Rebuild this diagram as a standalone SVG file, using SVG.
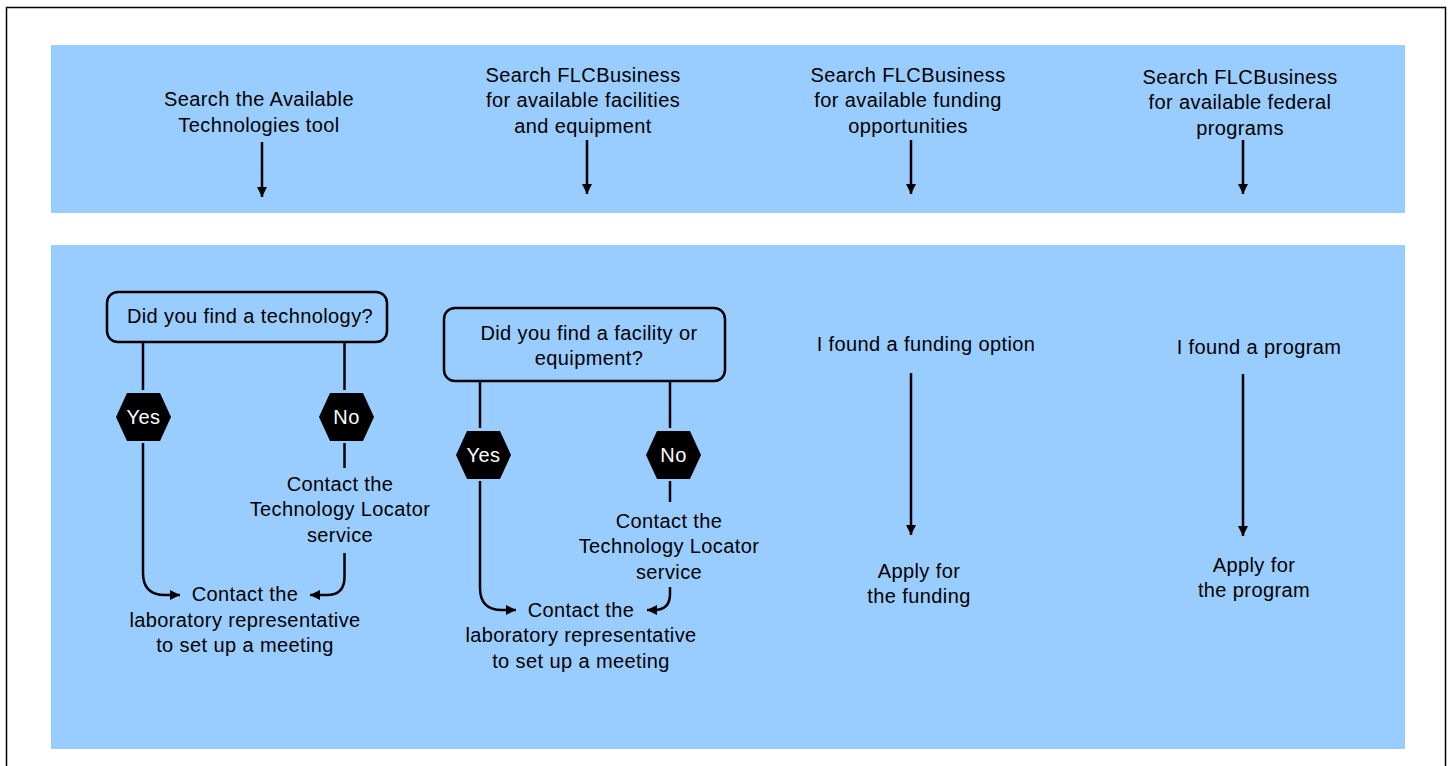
<svg xmlns="http://www.w3.org/2000/svg" width="1449" height="766" viewBox="0 0 1449 766">
<style>
text{font-family:"Liberation Sans",Arial,sans-serif;font-size:20px;letter-spacing:0.4px;fill:#000;text-anchor:middle}
.w{fill:#fff}
.band{fill:#99ccff}
.box{fill:#99ccff;stroke:#000;stroke-width:2.5}
.hex{fill:#000}
.c{fill:none;stroke:#000;stroke-width:2.5}
</style>
<defs>
<marker id="ah" markerUnits="userSpaceOnUse" markerWidth="12" markerHeight="12" viewBox="0 0 12 12" refX="10" refY="6" orient="auto">
<path d="M0,1 L10,6 L0,11 Z" fill="#000"/>
</marker>
</defs>
<rect x="6.5" y="7.5" width="1439" height="770" fill="#fff" stroke="#000" stroke-width="1.5"/>
<rect class="band" x="51" y="45" width="1354" height="168"/>
<rect class="band" x="51" y="245" width="1354" height="504"/>

<g id="top1"><text x="259" y="106">Search the Available</text><text x="259" y="131.5">Technologies tool</text></g>
<g id="top2"><text x="583" y="81.5">Search FLCBusiness</text><text x="583" y="107">for available facilities</text><text x="583" y="132.5">and equipment</text></g>
<g id="top3"><text x="908" y="81.5">Search FLCBusiness</text><text x="908" y="107">for available funding</text><text x="908" y="132.5">opportunities</text></g>
<g id="top4"><text x="1240" y="83.5">Search FLCBusiness</text><text x="1240" y="109">for available federal</text><text x="1240" y="134.5">programs</text></g>

<g id="q1"><rect class="box" x="107" y="292" width="280" height="50" rx="11"/><text x="250" y="323">Did you find a technology?</text></g>
<g id="yes1"><polygon class="hex" points="116,417 127,393 160,393 171,417 160,441 127,441"/><text class="w" x="143.5" y="424">Yes</text></g>
<g id="no1"><polygon class="hex" points="319,417 330,393 363,393 374,417 363,441 330,441"/><text class="w" x="346.5" y="424">No</text></g>
<g id="loc1"><text x="340" y="491">Contact the</text><text x="340" y="516">Technology Locator</text><text x="340" y="541.5">service</text></g>
<g id="lab1"><text x="245" y="601">Contact the</text><text x="245" y="626.5">laboratory representative</text><text x="245" y="652">to set up a meeting</text></g>

<g id="q2"><rect class="box" x="444" y="308" width="281" height="73" rx="11"/><text x="589" y="340">Did you find a facility or</text><text x="589" y="365">equipment?</text></g>
<g id="yes2"><polygon class="hex" points="456,455 467,431 500,431 511,455 500,479 467,479"/><text class="w" x="483.5" y="462">Yes</text></g>
<g id="no2"><polygon class="hex" points="646,455 657,431 690,431 701,455 690,479 657,479"/><text class="w" x="673.5" y="462">No</text></g>
<g id="loc2"><text x="669" y="528">Contact the</text><text x="669" y="553">Technology Locator</text><text x="669" y="578.5">service</text></g>
<g id="lab2"><text x="581" y="617">Contact the</text><text x="581" y="642">laboratory representative</text><text x="581" y="667.5">to set up a meeting</text></g>

<g id="fund"><text x="926" y="351">I found a funding option</text></g>
<g id="applyf"><text x="919" y="578">Apply for</text><text x="919" y="603">the funding</text></g>
<g id="prog"><text x="1259" y="354">I found a program</text></g>
<g id="applyp"><text x="1254" y="572">Apply for</text><text x="1254" y="597">the program</text></g>

<g id="connectors">
<path class="c" d="M262,142 V197" marker-end="url(#ah)"/>
<path class="c" d="M587,140 V194" marker-end="url(#ah)"/>
<path class="c" d="M911,140 V194" marker-end="url(#ah)"/>
<path class="c" d="M1243,140 V194" marker-end="url(#ah)"/>
<path class="c" d="M143,342 V390"/>
<path class="c" d="M344.5,342 V390"/>
<path class="c" d="M143,443 V573 Q143,595 165,595 H180" marker-end="url(#ah)"/>
<path class="c" d="M344.5,443 V468"/>
<path class="c" d="M344.5,553 V577 Q344.5,595 327,595 H310" marker-end="url(#ah)"/>
<path class="c" d="M480,381 V428"/>
<path class="c" d="M670,381 V428"/>
<path class="c" d="M480,481 V588 Q480,610 502,610 H516" marker-end="url(#ah)"/>
<path class="c" d="M670,481 V502"/>
<path class="c" d="M670,587 V594 Q670,610 654,610 H647" marker-end="url(#ah)"/>
<path class="c" d="M911,373 V535" marker-end="url(#ah)"/>
<path class="c" d="M1243,374 V536" marker-end="url(#ah)"/>
</g>
</svg>
